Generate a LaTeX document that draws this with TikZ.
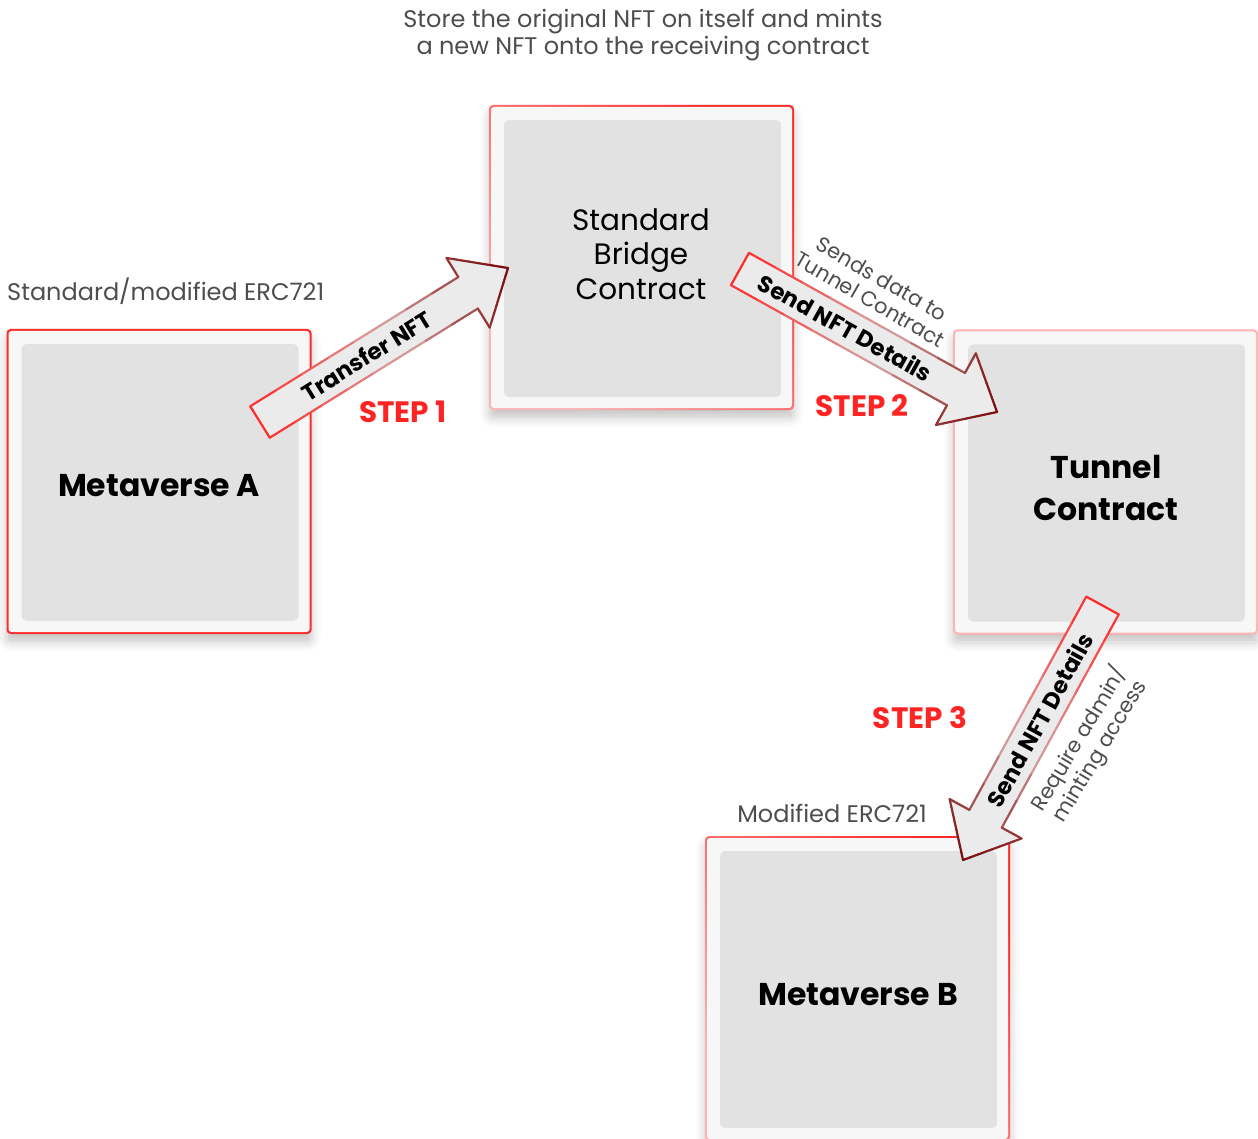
\documentclass[tikz,border=0pt]{standalone}
\usepackage{fontspec}
\setmainfont{Poppins}
\usetikzlibrary{calc,shadows.blur}

\definecolor{boxfill}{HTML}{F7F7F7}
\definecolor{corefill}{HTML}{E2E2E2}
\definecolor{arrfill}{HTML}{EBEBEB}
\definecolor{stepred}{HTML}{FF2424}
\definecolor{notegray}{HTML}{4D4D4D}
\definecolor{edgered}{HTML}{FF2A2A}
\definecolor{edgepale}{HTML}{FFB3B3}
\definecolor{arrtail}{HTML}{FF2A2A}
\definecolor{arrmid}{HTML}{D8A4A4}
\definecolor{arrhead}{HTML}{7A0C0C}

% one edge of a block arrow, coloured along the arrow from tail (t=0) to tip (t=1)
\newcommand\gradedge[4]{%
  \foreach \k in {0,...,7}{%
    \pgfmathsetmacro\ta{\k/8}%
    \pgfmathsetmacro\tb{(\k+1)/8}%
    \pgfmathsetmacro\tm{#3+(#4-#3)*(\k+0.5)/8}%
    \ifdim\tm pt<0.55pt
      \pgfmathtruncatemacro\pc{100*(1-\tm/0.55)}%
      \colorlet{segc}{arrtail!\pc!arrmid}%
    \else
      \pgfmathtruncatemacro\pc{100*(1-(\tm-0.55)/0.45)}%
      \colorlet{segc}{arrmid!\pc!arrhead}%
    \fi
    \draw[segc, line width=2.2pt, line cap=round]
      ($(#1)!\ta!(#2)$) -- ($(#1)!\tb!(#2)$);
  }%
}

% block arrow from a tail coordinate to a tip coordinate
\newcommand\blockarrow[2]{%
  \coordinate (nk) at ($(#2)!47pt!(#1)$);
  \coordinate (tl) at ($(#1)!18.5pt!90:(#2)$);
  \coordinate (tr) at ($(#1)!18.5pt!-90:(#2)$);
  \coordinate (nl) at ($(nk)!18.5pt!90:(#2)$);
  \coordinate (nr) at ($(nk)!18.5pt!-90:(#2)$);
  \coordinate (bl) at ($(nk)!41pt!90:(#2)$);
  \coordinate (br) at ($(nk)!41pt!-90:(#2)$);
  \fill[arrfill] (tl) -- (nl) -- (bl) -- (#2) -- (br) -- (nr) -- (tr) -- cycle;
  \gradedge{tl}{tr}{0}{0}
  \gradedge{tl}{nl}{0}{0.84}
  \gradedge{tr}{nr}{0}{0.84}
  \gradedge{nl}{bl}{0.84}{0.88}
  \gradedge{nr}{br}{0.84}{0.88}
  \gradedge{bl}{#2}{0.88}{1}
  \gradedge{br}{#2}{0.88}{1}
}

\begin{document}
\begin{tikzpicture}[x=1pt, y=-1pt,
  frame/.style={rectangle, rounded corners=4pt, minimum width=305pt, minimum height=305pt,
    inner sep=0pt, blur shadow={shadow xshift=0pt, shadow yshift=-8pt,
    shadow blur radius=9pt, shadow opacity=22}},
  pad/.style={rectangle, rounded corners=3pt, fill=boxfill, minimum width=301pt,
    minimum height=301pt, inner sep=0pt},
  core/.style={rectangle, rounded corners=5pt, fill=corefill, minimum width=277pt,
    minimum height=277pt, inner sep=0pt},
  boldname/.style={align=center, text=black, inner sep=0pt, font=\fontsize{31.5}{42}\selectfont\bfseries},
  plainname/.style={align=center, text=black, inner sep=0pt, font=\fontsize{29.5}{34.5}\selectfont},
  note/.style={text=notegray, align=center, font=\fontsize{24}{27}\selectfont},
  sidenote/.style={text=notegray, align=center, inner sep=0pt, font=\fontsize{21}{24}\selectfont},
  steplabel/.style={text=stepred, font=\fontsize{29.5}{32}\selectfont\bfseries},
  arrowlabel/.style={sloped, inner sep=0pt, text=black, font=\fontsize{23}{26}\selectfont\bfseries}]
\useasboundingbox (0,0) rectangle (1258,1139);

% notes above the boxes
\node[note] (topnote) at (643,35) {Store the original NFT on itself and mints\\a new NFT onto the receiving contract};
\node[note, anchor=west, inner sep=0pt] (erca) at (7,291) {Standard/modified ERC721};
\node[note, inner sep=0pt] (ercb) at (832,813) {Modified ERC721};

% Metaverse A
\node[frame, fill=edgered] (fa) at (159,481.5) {};
\node[pad] at (fa) {};
\node[core] (mA) at (160,482.5) {};
\node[boldname] (tA) at (159,486) {Metaverse A};

% Standard Bridge Contract
\node[frame, top color=edgered, bottom color=edgepale, shading angle=-45] (fb) at (641.5,257.5) {};
\node[pad] at (fb) {};
\node[core] (bridge) at (642.5,258.5) {};
\node[plainname] (tb) at (641,254) {Standard\\Bridge\\Contract};

% Tunnel Contract
\node[frame, fill=edgepale] (ft) at (1105.5,482) {};
\node[pad] at (ft) {};
\node[core] (tunnel) at (1106.5,483) {};
\node[boldname] (tt) at (1106,488) {Tunnel\\Contract};

% Metaverse B
\node[frame, top color=edgered, bottom color=edgepale, shading angle=-45] (fm) at (857.5,988.5) {};
\node[pad] at (fm) {};
\node[core] (mB) at (858.5,989.5) {};
\node[boldname] (tB) at (858,995) {Metaverse B};

% step 1: Metaverse A -> bridge
\coordinate (s1) at (260,422);
\coordinate (e1) at (508,268);
\blockarrow{s1}{e1}
\path (s1) -- (e1) node[arrowlabel, pos=0.43] (l1) {Transfer NFT};
\node[steplabel] (st1) at (403,412) {STEP 1};

% step 2: bridge -> tunnel
\coordinate (s2) at (740,269);
\coordinate (e2) at (997,412);
\blockarrow{s2}{e2}
\path (s2) -- (e2) node[arrowlabel, pos=0.41] (l2) {Send NFT Details};
\node[steplabel] (st2) at (862,406) {STEP 2};
\node[sidenote, rotate=-30] (n2) at (876,289) {Sends data to\\Tunnel Contract};

% step 3: tunnel -> Metaverse B
\coordinate (s3) at (1102.5,605.5);
\coordinate (e3) at (963,860);
\blockarrow{s3}{e3}
\path (s3) -- (e3) node[arrowlabel, pos=0.45] (l3) {Send NFT Details};
\node[steplabel] (st3) at (920,718) {STEP 3};
\node[sidenote, rotate=59] (n3) at (1089,745) {Require admin/\\minting access};
\end{tikzpicture}
\end{document}
